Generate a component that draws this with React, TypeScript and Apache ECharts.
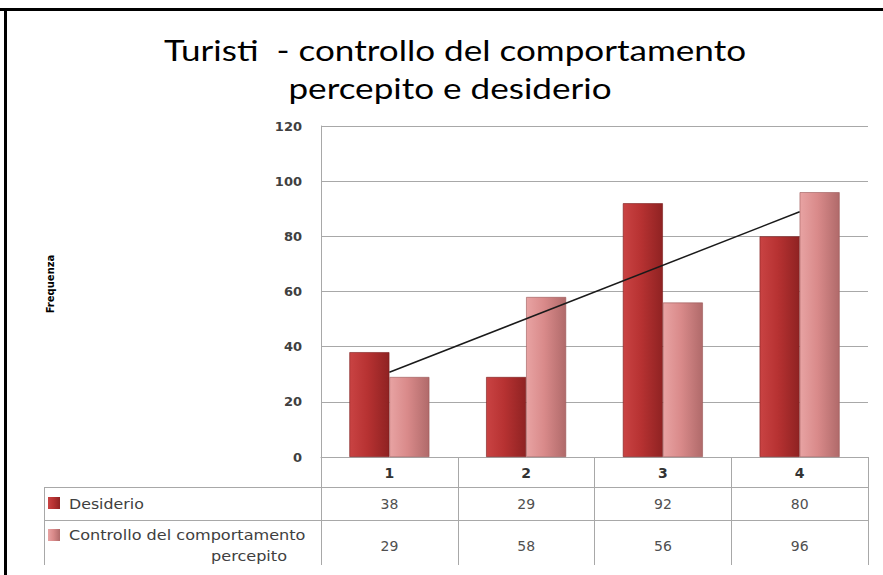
import React, { useEffect, useRef } from "react";
import * as echarts from "echarts";

const titleLines = ["Turisti  - controllo del comportamento", "percepito e desiderio"];
const categories = ["1", "2", "3", "4"];
const seriesNames = ["Desiderio", "Controllo del comportamento percepito"];
const tableLabels = [["Desiderio"], ["Controllo del comportamento", "percepito"]];
const desiderio = [38, 29, 92, 80];
const controllo = [29, 58, 56, 96];
const trendStart = 30.7;
const trendEnd = 88.9;
const yTicks = { min: 0, max: 120, interval: 20 };
const yName = "Frequenza";

const W = 883;
const H = 575;
const GRID_L = 321;
const GRID_R = 868;
const GRID_T = 126;
const GRID_B = 457;
const TABLE_L = 44;
const ROW1 = 487;
const ROW2 = 520;
const TABLE_BOTTOM = 565;
const GRAY = "#a8a8a8";

const darkGrad = () =>
  new echarts.graphic.LinearGradient(0, 0, 1, 0, [
    { offset: 0, color: "#c94343" },
    { offset: 0.45, color: "#b73232" },
    { offset: 1, color: "#8f2222" },
  ]);
const lightGrad = () =>
  new echarts.graphic.LinearGradient(0, 0, 1, 0, [
    { offset: 0, color: "#e8a3a3" },
    { offset: 0.45, color: "#d98a8a" },
    { offset: 1, color: "#b06a6a" },
  ]);

export default function App() {
  const ref = useRef<HTMLDivElement>(null);
  useEffect(() => {
    const chart = echarts.init(ref.current!, null, { renderer: "svg", width: W, height: H });
    const option: any = {
      animation: false,
      backgroundColor: "#ffffff",
      grid: { left: GRID_L, right: W - GRID_R, top: GRID_T, bottom: H - GRID_B, containLabel: false },
      xAxis: {
        type: "category",
        data: categories,
        axisLine: { lineStyle: { color: GRAY, width: 1 } },
        axisTick: { show: true, length: TABLE_BOTTOM - GRID_B, interval: 0, lineStyle: { color: GRAY } },
        axisLabel: { margin: 9, color: "#333", fontFamily: "DejaVu Sans", fontWeight: "bold", fontSize: 14 },
      },
      yAxis: {
        type: "value",
        min: yTicks.min,
        max: yTicks.max,
        interval: yTicks.interval,
        axisLine: { show: true, lineStyle: { color: GRAY } },
        axisTick: { show: false },
        axisLabel: { margin: 19, color: "#404040", fontFamily: "DejaVu Sans", fontWeight: "bold", fontSize: 13 },
        splitLine: { lineStyle: { color: GRAY, width: 1 } },
      },
      series: [
        {
          name: seriesNames[0],
          type: "bar",
          data: desiderio,
          barWidth: 40,
          barGap: "0%",
          itemStyle: { color: darkGrad(), borderColor: "#7a1c1c", borderWidth: 0.6 },
        },
        {
          name: seriesNames[1],
          type: "bar",
          data: controllo,
          barWidth: 40,
          barGap: "0%",
          itemStyle: { color: lightGrad(), borderColor: "#9a5858", borderWidth: 0.6 },
        },
        {
          name: "trend",
          type: "line",
          data: [
            [categories[0], trendStart],
            [categories[categories.length - 1], trendEnd],
          ],
          symbol: "none",
          lineStyle: { color: "#1a1a1a", width: 1.5 },
          z: 5,
        },
      ],
    };
    chart.setOption(option);

    const colX = categories.map((c) => chart.convertToPixel({ xAxisIndex: 0 }, c) as number);
    const cellStyle = { fontFamily: "DejaVu Sans", fontSize: 14, fill: "#505050" };
    const labelStyle = { fontFamily: "DejaVu Sans", fontSize: 14, fill: "#404040" };
    const graphics: any[] = [
      // frame
      { type: "line", shape: { x1: 0, y1: 9.5, x2: W, y2: 9.5 }, style: { stroke: "#000", lineWidth: 3 } },
      { type: "line", shape: { x1: 5.5, y1: 8, x2: 5.5, y2: H }, style: { stroke: "#000", lineWidth: 3 } },
      // title
      ...titleLines.map((t, i) => ({
        type: "text",
        x: i === 0 ? 455 : 450,
        y: 50 + i * 38,
        scaleX: 1.21,
        style: { text: t, fontFamily: "Lato", fontSize: 29, fill: "#000", align: "center", verticalAlign: "middle" },
      })),
      // y name
      {
        type: "text",
        x: 50,
        y: 284,
        rotation: Math.PI / 2,
        style: { text: yName, fontFamily: "DejaVu Sans", fontWeight: "bold", fontSize: 10, fill: "#000", align: "center", verticalAlign: "middle" },
      },
      // table lines
      { type: "line", shape: { x1: TABLE_L, y1: ROW1 + 0.5, x2: GRID_R, y2: ROW1 + 0.5 }, style: { stroke: GRAY, lineWidth: 1 } },
      { type: "line", shape: { x1: TABLE_L, y1: ROW2 + 0.5, x2: GRID_R, y2: ROW2 + 0.5 }, style: { stroke: GRAY, lineWidth: 1 } },
      { type: "line", shape: { x1: TABLE_L + 0.5, y1: ROW1, x2: TABLE_L + 0.5, y2: TABLE_BOTTOM }, style: { stroke: GRAY, lineWidth: 1 } },
      // legend keys
      { type: "rect", shape: { x: 48, y: 497, width: 12, height: 12 }, style: { fill: darkGrad() } },
      { type: "rect", shape: { x: 48, y: 529, width: 12, height: 12 }, style: { fill: lightGrad() } },
      { type: "text", x: 69, y: 504, scaleX: 1.13, style: { ...labelStyle, text: tableLabels[0][0], align: "left", verticalAlign: "middle" } },
      { type: "text", x: 69, y: 535, scaleX: 1.15, style: { ...labelStyle, text: tableLabels[1][0], align: "left", verticalAlign: "middle" } },
      { type: "text", x: 249, y: 556, scaleX: 1.15, style: { ...labelStyle, text: tableLabels[1][1], align: "center", verticalAlign: "middle" } },
      ...desiderio.map((v, i) => ({
        type: "text",
        x: colX[i],
        y: 504,
        style: { ...cellStyle, text: String(v), align: "center", verticalAlign: "middle" },
      })),
      ...controllo.map((v, i) => ({
        type: "text",
        x: colX[i],
        y: 546,
        style: { ...cellStyle, text: String(v), align: "center", verticalAlign: "middle" },
      })),
    ];
    chart.setOption({ graphic: graphics });
    return () => chart.dispose();
  }, []);
  return <div ref={ref} style={{ position: "fixed", left: 0, top: 0, width: W, height: H }} />;
}
